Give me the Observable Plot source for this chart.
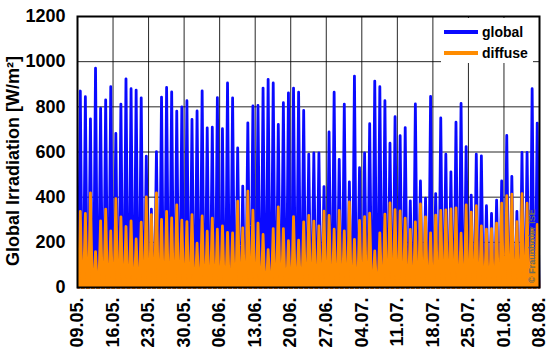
<!DOCTYPE html>
<html>
<head>
<meta charset="utf-8">
<script src="https://cdn.jsdelivr.net/npm/d3@7"></script>
<script src="https://cdn.jsdelivr.net/npm/@observablehq/plot@0.6"></script>
<style>
  body { margin: 0; background: #fff; }
  #wrap { position: relative; width: 550px; height: 360px; font-family: "Liberation Sans", Arial, sans-serif; }
  #legend { position: absolute; left: 441px; top: 18px; width: 92px; height: 45px; background: #fff; }
  .row { position: absolute; left: 3px; display: flex; align-items: center; font-weight: bold; font-size: 14px; color: #000; }
  .sw { width: 34px; height: 4px; margin-right: 4px; }
  #wm { position: absolute; left: 527px; top: 283px; transform-origin: 0 0; transform: rotate(-90deg); font-size: 9px; color: #6a6a5a; white-space: nowrap; font-weight: bold; }
</style>
</head>
<body>
<div id="wrap">
  <div id="chart"></div>
  <div id="legend">
    <div class="row" style="top:6px"><div class="sw" style="background:#0a0aff"></div>global</div>
    <div class="row" style="top:27px"><div class="sw" style="background:#ff8c00"></div>diffuse</div>
  </div>
  <div id="wm">© Fraunhofer ISE</div>
</div>
<script>
const tickLabels = ["09.05.","16.05.","23.05.","30.05.","06.06.","13.06.","20.06.","27.06.","04.07.","11.07.","18.07.","25.07.","01.08.","08.08."];
const yTicks = [0, 200, 400, 600, 800, 1000, 1200];
// daily peak values (W/m²), one per day starting 09.05.
const globalPeak = [870,845,747,971,794,831,889,682,812,924,880,874,840,582,347,602,843,886,866,781,800,827,744,782,871,707,710,841,703,906,840,618,449,729,804,806,883,922,906,722,818,862,883,865,784,590,596,596,447,689,865,567,812,468,936,531,596,725,914,889,827,639,756,672,708,384,813,472,396,846,416,751,590,512,732,815,624,409,590,583,362,328,387,472,673,492,337,598,598,880,728];
const diffusePeak = [337,328,419,159,295,347,251,393,313,270,295,215,289,401,323,419,301,337,308,366,298,292,323,196,317,249,307,258,273,244,242,382,264,427,342,285,235,168,261,357,261,208,314,210,291,319,294,273,338,319,258,341,251,379,213,297,314,329,162,242,325,375,345,339,307,257,291,370,313,242,320,341,344,348,353,241,366,334,362,273,258,261,285,373,407,413,292,416,373,260,279];
// day fractions: sunrise, midday peak, sunset
const dayShape = [0.2, 0.55, 0.9];

function series(peaks) {
  const out = [];
  peaks.forEach((p, i) => {
    out.push({t: i + dayShape[0], v: 0});
    out.push({t: i + dayShape[1], v: p});
    out.push({t: i + dayShape[2], v: 0});
  });
  return out;
}
const globalData = series(globalPeak);
const diffuseData = series(diffusePeak);
const tickDays = tickLabels.map((_, i) => i * 7);
const blue = "#0a0aff", orange = "#ff8c00";

const chart = Plot.plot({
  width: 550, height: 360,
  marginLeft: 77, marginRight: 11, marginTop: 16, marginBottom: 73,
  style: {fontFamily: "'Liberation Sans', Arial, sans-serif", background: "#fff"},
  x: {domain: [0, tickDays[tickDays.length - 1]]},
  y: {domain: [0, 1200]},
  marks: [
    Plot.gridY(yTicks, {stroke: "#000", strokeOpacity: 0.85, strokeWidth: 1}),
    Plot.gridX(tickDays, {stroke: "#000", strokeOpacity: 0.85, strokeWidth: 1}),
    Plot.areaY(globalData, {x: "t", y: "v", fill: blue}),
    Plot.lineY(globalData, {x: "t", y: "v", stroke: blue, strokeWidth: 2.8, strokeLinejoin: "round"}),
    Plot.areaY(diffuseData, {x: "t", y: "v", fill: orange}),
    Plot.lineY(diffuseData, {x: "t", y: "v", stroke: orange, strokeWidth: 2.8, strokeLinejoin: "round"}),
    Plot.frame({stroke: "#000", strokeWidth: 2}),
    Plot.axisY(yTicks, {tickFormat: d => String(d), tickSize: 0, tickPadding: 12, fontSize: 18, fontWeight: "bold", label: null}),
    Plot.axisX(tickDays, {tickFormat: d => tickLabels[d / 7], tickRotate: -90, tickSize: 0, tickPadding: 10, fontSize: 18, fontWeight: "bold", label: null}),
    Plot.text(["Global Irradiation [W/m²]"], {frameAnchor: "left", rotate: -90, dx: -64, dy: 9, fontSize: 18, fontWeight: "bold", textAnchor: "middle", lineAnchor: "middle"})
  ]
});
document.getElementById("chart").appendChild(chart);
</script>
</body>
</html>
